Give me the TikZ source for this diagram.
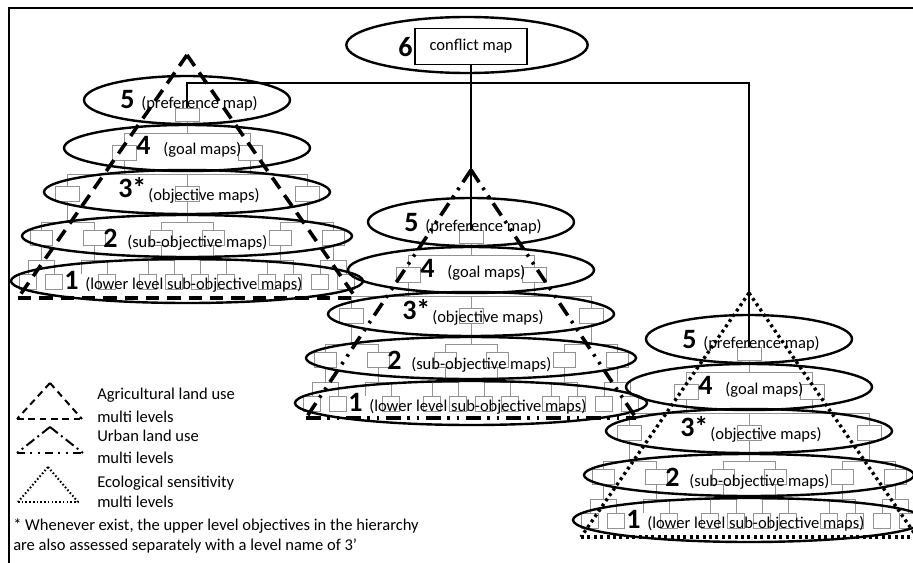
\documentclass[tikz,border=0pt]{standalone}
\usepackage{fontspec}
\setmainfont{Carlito}
\usetikzlibrary{shapes.geometric}
\tikzset{
 lvl/.style={ellipse, draw, line width=1.8pt, inner sep=0pt},
 mbox/.style={draw=gray!85, line width=0.7pt, fill=white, inner sep=0pt, minimum width=18pt, minimum height=11.25pt},
 tree/.style={draw=gray!85, line width=0.7pt},
 num/.style={font=\fontsize{21}{21}\selectfont\bfseries, inner sep=0pt, anchor=base west},
 lab/.style={font=\fontsize{12.4}{14}\selectfont, inner sep=0pt, anchor=base west},
 main/.style={line width=1pt},
 agri/.style={line width=2.7pt, dash pattern=on 10pt off 6pt},
 urban/.style={line width=2.7pt, dash pattern=on 11pt off 5pt on 2pt off 5pt on 2pt off 5pt},
 eco/.style={line width=2.5pt, dash pattern=on 2.2pt off 2.6pt},
 agrileg/.style={line width=1.5pt, dash pattern=on 5pt off 3.5pt},
 urbanleg/.style={line width=1.5pt, dash pattern=on 7.5pt off 3pt on 1.5pt off 3pt},
 urbanbase/.style={line width=1.5pt, dash pattern=on 6pt off 4pt on 1.5pt off 4pt on 1.5pt off 4pt},
 ecoleg/.style={line width=1.5pt, dash pattern=on 1.2pt off 1.6pt},
}
\newcommand{\hier}[3]{%
 \coordinate (#1b5) at (#2,{#3+33});
 \coordinate (#1b4) at (#2,{#3+74});
 \coordinate (#1b3) at (#2,{#3+122});
 \coordinate (#1b2) at (#2,{#3+160});
 \node[mbox, minimum height=9.75pt] (#1L5) at (#2,{#3+14.5}) {};
 \foreach \dx [count=\k] in {-63,63} {\node[mbox] (#1Lf\k) at ({#2+\dx},{#3+52.5}) {};}
 \foreach \dx [count=\k] in {-120,0,120} {\node[mbox] (#1Lt\k) at ({#2+\dx},{#3+93.5}) {};}
 \foreach \dx [count=\k] in {-146,-93,-26,26,93,146} {\node[mbox, minimum width=16.5pt] (#1Ls\k) at ({#2+\dx},{#3+137.5}) {};}
 \foreach \dx/\k in {-159/1,-133/2,-80/4,-39/5,-13/6,13/7,39/8,80/9,106/10,133/11,159/12} {\node[mbox, minimum width=12.75pt] (#1Lo\k) at ({#2+\dx},{#3+181.5}) {};}
 \node[inner sep=0pt, minimum width=12.75pt, minimum height=11.25pt] (#1Lo3) at ({#2-106},{#3+181.5}) {};
 \foreach \k in {1,2} {\draw[tree] (#1L5.south) -- (#1L5.south |- #1b5) -| (#1Lf\k.north);}
 \foreach \p/\q in {1/1,1/2,2/2,2/3} {\draw[tree] (#1Lf\p.south) -- (#1Lf\p.south |- #1b4) -| (#1Lt\q.north);}
 \foreach \p/\q in {1/1,1/2,2/3,2/4,3/5,3/6} {\draw[tree] (#1Lt\p.south) -- (#1Lt\p.south |- #1b3) -| (#1Ls\q.north);}
 \foreach \p/\q in {1/1,1/2,2/3,2/4,3/5,3/6,4/7,4/8,5/9,5/10,6/11,6/12} {\draw[tree] (#1Ls\p.south) -- (#1Ls\p.south |- #1b2) -| (#1Lo\q.north);}
 \node[lvl, minimum width=154.5pt, minimum height=36pt] (#1E5) at (#2,#3) {};
 \node[lvl, minimum width=184.5pt, minimum height=34.5pt] (#1E4) at (#2,{#3+48}) {};
 \node[lvl, minimum width=214.5pt, minimum height=33pt] (#1E3) at (#2,{#3+92}) {};
 \node[lvl, minimum width=247.5pt, minimum height=31.5pt] (#1E2) at (#2,{#3+136}) {};
 \node[lvl, minimum width=264pt, minimum height=33pt] (#1E1) at (#2,{#3+181}) {};
 \node[num] (#1N5) at ({#2-67},{#3+9}) {5};
 \node[lab] (#1T5) at ({#2-46},{#3+9}) {(preference map)};
 \node[num] (#1N4) at ({#2-51},{#3+55}) {4};
 \node[lab] (#1T4) at ({#2-24},{#3+55}) {(goal maps)};
 \node[num] (#1N3) at ({#2-69},{#3+97}) {3*};
 \node[lab] (#1T3) at ({#2-39},{#3+100}) {(objective maps)};
 \node[num] (#1N2) at ({#2-84},{#3+147}) {2};
 \node[lab] (#1T2) at ({#2-60},{#3+147}) {(sub-objective maps)};
 \node[num] (#1N1) at ({#2-123},{#3+189}) {1};
 \node[lab] (#1T1) at ({#2-102},{#3+189}) {(lower level sub-objective maps)};
}
\begin{document}
\begin{tikzpicture}[x=0.75pt, y=-0.75pt]
\useasboundingbox (0,0) rectangle (913,563);
\clip (0,0) rectangle (913,563);
% frame
\draw[line width=1.5pt] (9,563) -- (9,8) -- (913,8);
% conflict map
\node[lvl, minimum width=181pt, minimum height=42pt] (confE) at (467,45) {};
\node[draw, line width=1.1pt, inner sep=0pt, minimum width=84pt, minimum height=27pt, font=\fontsize{12.4}{14}\selectfont] (conf) at (471,46.5) {conflict map};
\node[num] (six) at (398,57) {6};
% hierarchies
\hier{A}{187}{100}
\hier{B}{471}{222}
\hier{C}{749}{339}
% main connectors
\coordinate (topbus) at (471,83);
\draw[main] (conf.south) -- (BL5.north);
\draw[main] (AL5.north) |- (topbus) -| (CL5.north);
% big triangles
\coordinate (Aap) at (187,55); \coordinate (Abl) at (18,298); \coordinate (Abr) at (356,298);
\draw[agri] (Aap) -- (Abl); \draw[agri] (Aap) -- (Abr); \draw[agri] (Abl) -- (Abr);
\coordinate (Bap) at (471,170); \coordinate (Bbl) at (306,418); \coordinate (Bbr) at (636,418);
\draw[urban] (Bap) -- (Bbl); \draw[urban] (Bap) -- (Bbr); \draw[urban] (Bbl) -- (Bbr);
\coordinate (Cap) at (749,293); \coordinate (Cbl) at (581,537); \coordinate (Cbr) at (917,537);
\draw[eco] (Cap) -- (Cbl); \draw[eco] (Cap) -- (Cbr); \draw[eco] (Cbl) -- (Cbr);
% legend
\coordinate (la) at (50,383); \coordinate (lal) at (17,419); \coordinate (lar) at (82,419);
\draw[agrileg] (la) -- (lal); \draw[agrileg] (la) -- (lar); \draw[agrileg] (lal) -- (lar);
\coordinate (lu) at (50,427); \coordinate (lul) at (17,453); \coordinate (lur) at (83,453);
\draw[urbanleg] (lu) -- (lul); \draw[urbanleg] (lu) -- (lur); \draw[urbanbase] (lul) -- (lur);
\coordinate (le) at (48,467); \coordinate (lel) at (18,502); \coordinate (ler) at (78,502);
\draw[ecoleg] (le) -- (lel); \draw[ecoleg] (le) -- (ler); \draw[ecoleg] (lel) -- (ler);
\node[lab] (g1) at (97,399) {Agricultural land use};
\node[lab] (g2) at (97,422) {multi levels};
\node[lab] (g3) at (97,441) {Urban land use};
\node[lab] (g4) at (97,463) {multi levels};
\node[lab] (g5) at (97,487) {Ecological sensitivity};
\node[lab] (g6) at (97,507) {multi levels};
\node[lab] (f1) at (13,530) {* Whenever exist, the upper level objectives in the hierarchy};
\node[lab] (f2) at (13,550) {are also assessed separately with a level name of 3'};
\end{tikzpicture}
\end{document}
